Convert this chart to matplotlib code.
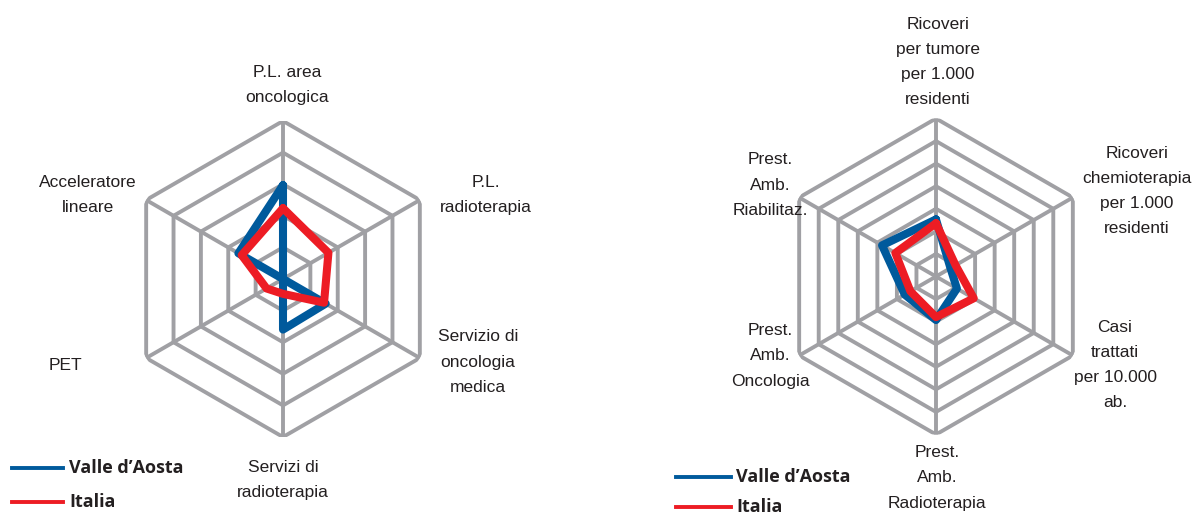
import numpy as np
import matplotlib
matplotlib.use("Agg")
import matplotlib.pyplot as plt
from matplotlib.lines import Line2D

# ---- data ----
left_axes = ["P.L. area\noncologica", "P.L.\nradioterapia", "Servizio di\noncologia\nmedica",
             "Servizi di\nradioterapia", "PET", "Acceleratore\nlineare"]
left_vda = [2.97, 0.0, 1.56, 1.6, 0.0, 1.63]
left_ita = [2.24, 1.66, 1.5, 0.47, 0.6, 1.51]
left_rings = [1, 2, 3, 4, 5]

right_axes = ["Ricoveri\nper tumore\nper 1.000\nresidenti",
              "Ricoveri\nchemioterapia\nper 1.000\nresidenti",
              "Casi\ntrattati\nper 10.000\nab.",
              "Prest.\nAmb.\nRadioterapia",
              "Prest.\nAmb.\nOncologia",
              "Prest.\nAmb.\nRiabilitaz."]
right_vda = [2.53, 0.74, 1.07, 1.93, 1.6, 2.76]
right_ita = [2.36, 1.0, 1.93, 1.8, 1.31, 2.08]
right_rings = [1, 2, 3, 4, 5, 6, 7]

series_names = ["Valle d\u2019Aosta", "Italia"]
BLUE = "#005a9c"
RED = "#ed1c24"
GRID = "#a0a0a4"

W, H = 1194, 517
fig = plt.figure(figsize=(W / 100, H / 100), dpi=100)
fig.patch.set_facecolor("white")


def radar(cx, cy, R, rings, vda, ita):
    ax = fig.add_axes([(cx - R) / W, 1 - (cy + R) / H, 2 * R / W, 2 * R / H],
                      projection="polar")
    ax.set_theta_zero_location("N")
    ax.set_theta_direction(-1)
    n = len(vda)
    th = np.arange(n) * 2 * np.pi / n
    thc = np.concatenate([th, th[:1]])
    for r in rings:
        ax.plot(thc, [r] * (n + 1), color=GRID, lw=2.8, solid_joinstyle="miter", zorder=1)
    for t in th:
        ax.plot([t, t], [0, rings[-1]], color=GRID, lw=2.8, zorder=1)
    ax.plot(thc, list(vda) + [vda[0]], color=BLUE, lw=5.8, solid_joinstyle="round",
            solid_capstyle="round", zorder=3)
    ax.plot(thc, list(ita) + [ita[0]], color=RED, lw=5.8, solid_joinstyle="round",
            solid_capstyle="round", zorder=4)
    ax.set_ylim(0, rings[-1])
    ax.grid(False)
    ax.set_xticks([])
    ax.set_yticks([])
    ax.spines["polar"].set_visible(False)
    ax.patch.set_alpha(0)
    return ax


radar(283, 279, 158, left_rings, left_vda, left_ita)
radar(936, 276.5, 158, right_rings, right_vda, right_ita)

lab_kw = dict(fontsize=12.5, family="Liberation Sans", color="#231f20",
              ha="center", va="center", linespacing=1.86)
left_pos = [(287, 85), (486, 195), (478, 362), (283, 480), (65, 365), (88, 195)]
right_pos = [(938, 62), (1137, 191), (1115, 365), (937, 478), (770, 356), (770, 185)]
for txt, (x, y) in zip(left_axes, left_pos):
    fig.text(x / W, 1 - y / H, txt, **lab_kw)
for txt, (x, y) in zip(right_axes, right_pos):
    fig.text(x / W, 1 - y / H, txt, **lab_kw)

# legends
leg_kw = dict(fontsize=13, family="Open Sans", weight="bold", color="#231f20",
              ha="left", va="center")


def legend(x0, x1, xt, ys):
    for name, col, y in zip(series_names, [BLUE, RED], ys):
        fig.add_artist(Line2D([x0 / W, x1 / W], [1 - y / H, 1 - y / H], color=col, lw=2.8,
                              transform=fig.transFigure))
        fig.text(xt / W, 1 - y / H, name, **leg_kw)


legend(12, 63, 69, [468, 502])
legend(676, 731, 736, [477, 507])

fig.savefig("out.png", dpi=100, facecolor="white")
